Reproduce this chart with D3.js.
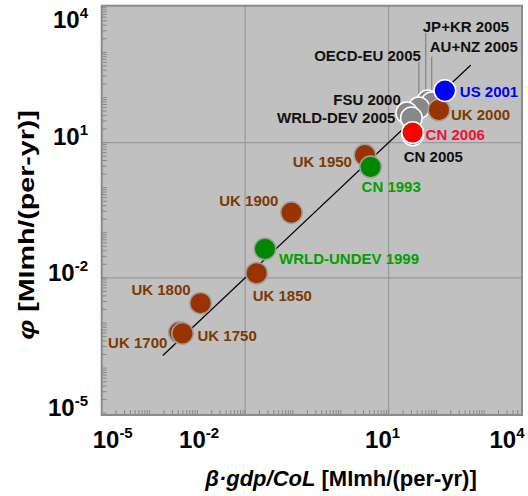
<!DOCTYPE html>
<html>
<head>
<meta charset="utf-8">
<script src="https://cdn.jsdelivr.net/npm/d3@7"></script>
<style>
  body { margin: 0; background: #fff; }
  text { font-family: "Liberation Sans", Arial, sans-serif; font-weight: bold; }
</style>
</head>
<body>
<div id="chart"></div>
<script>
// point data
const names = ["UK 1700", "UK 1750", "UK 1800", "UK 1850", "WRLD-UNDEV 1999", "UK 1900", "UK 1950", "CN 1993",
  "JP+KR 2005", "AU+NZ 2005", "OECD-EU 2005", "FSU 2000", "WRLD-DEV 2005", "CN 2005", "CN 2006", "UK 2000", "US 2001"];
const gdpCol = [4.2e-4, 4.9e-4, 1.17e-3, 0.0174, 0.026, 0.093, 3.2, 4.2,
  66, 80, 43, 24, 30, 32, 31.8, 113, 150];
const phi = [6.2e-4, 5.9e-4, 2.75e-3, 0.0127, 0.044, 0.28, 5.3, 2.9,
  84, 76, 59, 45.7, 35.3, 14.8, 16.7, 53, 142];
const groups = ["uk", "uk", "uk", "uk", "undev", "uk", "uk", "undev",
  "dev", "dev", "dev", "dev", "dev", "dev", "cn", "uk", "us"];
const fitX = [1.9e-4, 525];
const xTicks = [1e-5, 1e-2, 1e1, 1e4];
const yTicks = [1e-5, 1e-2, 1e1, 1e4];
const tickExp = ["-5", "-2", "1", "4"];

const fillColor = { uk: "#993300", undev: "#008800", dev: "#888888", cn: "#ff0000", us: "#0000ff" };
const textColor = { uk: "#7a3b00", undev: "#00a000", dev: "#111111", cn: "#f0103a", us: "#0000ff" };
const strokeColor = { uk: "#a0a0a0", undev: "#a0a0a0", dev: "#ffffff", cn: "#ffffff", us: "#ffffff" };

// label placement: [anchor, dx, dy] relative to circle centre
const labelPos = {
  "UK 1700": ["end", -12, 10], "UK 1750": ["start", 15, 2], "UK 1800": ["end", -10, -14],
  "UK 1850": ["start", -4, 22], "WRLD-UNDEV 1999": ["start", 14, 10], "UK 1900": ["end", -13, -12],
  "UK 1950": ["end", -13, 7], "CN 1993": ["start", -9, 20], "JP+KR 2005": ["start", -5, -74],
  "AU+NZ 2005": ["start", -2, -56], "OECD-EU 2005": ["end", 2, -52], "FSU 2000": ["end", -6, -13],
  "WRLD-DEV 2005": ["end", -16, 0], "CN 2005": ["start", -9, 22], "CN 2006": ["start", 13, 2],
  "UK 2000": ["start", 12, 5], "US 2001": ["start", 15, 1]
};
const leaders = { "JP+KR 2005": [-2, -68, -11], "AU+NZ 2005": [0, -46, -11], "OECD-EU 2005": [0, -46, -10] };

const W = 528, H = 496;
const svg = d3.select("#chart").append("svg").attr("width", W).attr("height", H);

const x = d3.scaleLog().domain([1e-5, Math.pow(10, 3.79)]).range([101.7, 522]);
const y = d3.scaleLog().domain([Math.pow(10, -5.04), Math.pow(10, 4.035)]).range([415, 5.7]);
const [x0, x1] = x.range(), [y0, y1] = y.range();

svg.append("rect").attr("x", x0).attr("y", y1).attr("width", x1 - x0).attr("height", y0 - y1)
  .attr("fill", "#c0c0c0");

// grid lines
svg.append("g").selectAll("line").data(xTicks.slice(1, 3)).join("line")
  .attr("x1", d => x(d)).attr("x2", d => x(d)).attr("y1", y1).attr("y2", y0)
  .attr("stroke", "#999").attr("stroke-width", 1.2);
svg.append("g").selectAll("line").data(yTicks.slice(1, 3)).join("line")
  .attr("y1", d => y(d)).attr("y2", d => y(d)).attr("x1", x0).attr("x2", x1)
  .attr("stroke", "#999").attr("stroke-width", 1.2);

// inner minor ticks
const minor = [];
for (let e = -6; e <= 4; e++) for (let m = 1; m <= 9; m++) minor.push(m * Math.pow(10, e));
svg.append("g").selectAll("line").data(minor.filter(v => x(v) > x0 + 1 && x(v) < x1 - 1)).join("line")
  .attr("x1", d => x(d)).attr("x2", d => x(d)).attr("y1", y0).attr("y2", y0 - 5)
  .attr("stroke", "#888").attr("stroke-width", 1);
svg.append("g").selectAll("line").data(minor.filter(v => y(v) > y1 + 1 && y(v) < y0 - 1)).join("line")
  .attr("y1", d => y(d)).attr("y2", d => y(d)).attr("x1", x0).attr("x2", x0 + 5)
  .attr("stroke", "#888").attr("stroke-width", 1);

svg.append("rect").attr("x", x0).attr("y", y1).attr("width", x1 - x0).attr("height", y0 - y1)
  .attr("fill", "none").attr("stroke", "#8a8a8a").attr("stroke-width", 2);

// tick labels
const xNudge = [11, -46, -6, -25];
const xl = svg.append("g").selectAll("text").data(xTicks).join("text")
  .attr("x", (d, i) => x(d) + xNudge[i]).attr("y", 448)
  .attr("text-anchor", "middle").attr("font-size", 24).attr("fill", "#000");
xl.append("tspan").text("10");
xl.append("tspan").attr("dy", -10).attr("font-size", 15).text((d, i) => tickExp[i]);

const yl = svg.append("g").selectAll("text").data(yTicks).join("text")
  .attr("x", 88).attr("y", d => Math.max(19, y(d) - 6)).attr("dy", "0.36em")
  .attr("text-anchor", "end").attr("font-size", 24).attr("fill", "#000");
yl.append("tspan").text("10");
yl.append("tspan").attr("dy", -10).attr("font-size", 15).text((d, i) => tickExp[i]);

// axis titles
const xt = svg.append("text").attr("x", 341).attr("y", 486).attr("text-anchor", "middle")
  .attr("font-size", 22).attr("fill", "#000");
xt.append("tspan").attr("font-style", "italic").text("β·gdp/CoL");
xt.append("tspan").text(" [MImh/(per-yr)]");

const yt = svg.append("text").attr("transform", "translate(34,225) rotate(-90) scale(1.3,1)")
  .attr("text-anchor", "middle").attr("font-size", 22).attr("fill", "#000");
yt.append("tspan").attr("font-style", "italic").text("φ");
yt.append("tspan").text(" [MImh/(per-yr)]");

// fit line y = x
svg.append("line").attr("x1", x(fitX[0])).attr("y1", y(fitX[0])).attr("x2", x(fitX[1])).attr("y2", y(fitX[1]))
  .attr("stroke", "#000").attr("stroke-width", 1.2);

const pts = names.map((n, i) => ({ name: n, gx: gdpCol[i], py: phi[i], g: groups[i] }));

// leader lines
svg.append("g").selectAll("line").data(pts.filter(d => leaders[d.name])).join("line")
  .attr("x1", d => x(d.gx) + leaders[d.name][0]).attr("x2", d => x(d.gx) + leaders[d.name][0])
  .attr("y1", d => y(d.py) + leaders[d.name][1]).attr("y2", d => y(d.py) + leaders[d.name][2])
  .attr("stroke", "#777").attr("stroke-width", 1);

svg.append("g").selectAll("circle").data(pts).join("circle")
  .attr("cx", d => x(d.gx)).attr("cy", d => y(d.py)).attr("r", 10.8)
  .attr("fill", d => fillColor[d.g]).attr("stroke", d => strokeColor[d.g]).attr("stroke-width", 1.5);

svg.append("g").selectAll("text").data(pts).join("text")
  .attr("x", d => x(d.gx) + labelPos[d.name][1]).attr("y", d => y(d.py) + labelPos[d.name][2])
  .attr("dy", "0.36em").attr("text-anchor", d => labelPos[d.name][0])
  .attr("font-size", 15).attr("fill", d => textColor[d.g]).text(d => d.name);
</script>
</body>
</html>
